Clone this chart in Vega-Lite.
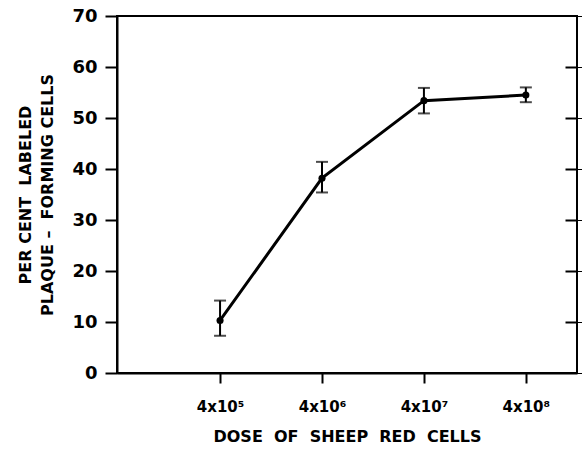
{
  "$schema": "https://vega.github.io/schema/vega-lite/v6.json",
  "width": 460,
  "height": 357,
  "autosize": {"type": "none"},
  "padding": {"left": 117, "top": 16, "right": 5, "bottom": 76},
  "background": "white",
  "config": {
    "view": {"stroke": "black", "strokeWidth": 2},
    "axis": {"labelFont": "DejaVu Sans", "titleFont": "DejaVu Sans", "labelColor": "black", "titleColor": "black", "domainColor": "black", "tickColor": "black", "grid": false}
  },
  "data": {
    "values": [
      {"dose": 400000, "pct": 10.3, "lo": 7.3, "hi": 14.2},
      {"dose": 4000000, "pct": 38.2, "lo": 35.4, "hi": 41.4},
      {"dose": 40000000, "pct": 53.4, "lo": 50.9, "hi": 55.9},
      {"dose": 400000000, "pct": 54.5, "lo": 53.1, "hi": 56.0}
    ]
  },
  "encoding": {
    "x": {
      "field": "dose", "type": "quantitative",
      "scale": {"type": "log", "domain": [39000, 1270000000], "nice": false},
      "axis": {
        "values": [400000, 4000000, 40000000, 400000000],
        "labelExpr": "datum.value == 400000 ? '4x10⁵' : datum.value == 4000000 ? '4x10⁶' : datum.value == 40000000 ? '4x10⁷' : '4x10⁸'",
        "title": "DOSE\u00a0\u00a0OF\u00a0\u00a0SHEEP\u00a0\u00a0RED\u00a0\u00a0CELLS",
        "labelFontSize": 15, "labelFontWeight": "bold", "labelPadding": 16,
        "titleFontSize": 16, "titleFontWeight": "bold", "titlePadding": 14,
        "tickSize": 10, "tickWidth": 2, "domainWidth": 2
      }
    }
  },
  "layer": [
    {
      "mark": {"type": "line", "color": "black", "strokeWidth": 3},
      "encoding": {
        "y": {
          "field": "pct", "type": "quantitative",
          "scale": {"domain": [0, 70], "nice": false},
          "axis": {
            "values": [0, 10, 20, 30, 40, 50, 60, 70],
            "title": ["PER CENT\u00a0\u00a0LABELED", "PLAQUE –\u00a0\u00a0FORMING CELLS"],
            "labelFontSize": 18, "labelFontWeight": "bold", "labelPadding": 8,
            "titleFontSize": 16, "titleFontWeight": "bold", "titlePadding": 16, "titleLineHeight": 22,
            "tickSize": 12, "tickWidth": 2, "domainWidth": 2
          }
        }
      }
    },
    {
      "mark": {"type": "point", "filled": true, "color": "black", "size": 50, "opacity": 1},
      "encoding": {"y": {"field": "pct", "type": "quantitative"}}
    },
    {
      "mark": {"type": "errorbar", "ticks": {"size": 12, "thickness": 2, "color": "black"}, "rule": {"strokeWidth": 2, "color": "black"}},
      "encoding": {
        "y": {"field": "lo", "type": "quantitative"},
        "y2": {"field": "hi"}
      }
    },
    {
      "mark": {"type": "point", "opacity": 0},
      "encoding": {
        "y": {
          "field": "pct", "type": "quantitative",
          "axis": {"orient": "left", "offset": -460, "values": [10, 20, 30, 40, 50, 60], "labels": false, "title": null, "domain": false, "tickSize": 12, "tickWidth": 2}
        }
      }
    }
  ],
  "resolve": {"axis": {"y": "independent"}}
}
